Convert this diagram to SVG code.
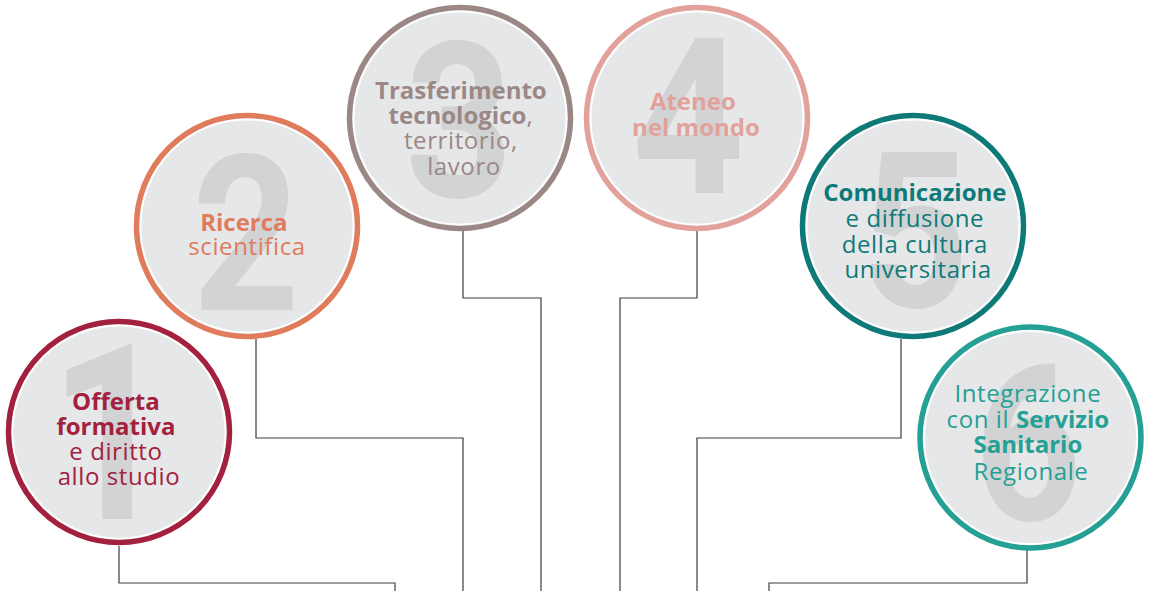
<svg xmlns="http://www.w3.org/2000/svg" width="1149" height="591" viewBox="0 0 1149 591">
  <style>
    .ring { fill: #e6e7e8; stroke-width: 5.5; }
    .inner { fill: none; stroke: #ffffff; stroke-width: 1.8; }
    .num { font-family: Roboto, "Liberation Sans", sans-serif; font-weight: 700; fill: #d1d3d4; text-anchor: middle; }
    .lbl { font-family: "Open Sans", "Liberation Sans", sans-serif; font-size: 24px; text-anchor: middle; }
    .b { font-weight: 700; }
    .l { font-weight: 400; letter-spacing: 0.6px; }
    .wire { fill: none; stroke: #3c3c3c; stroke-width: 1.2; }
  </style>

  <g id="connectors">
    <path class="wire" d="M119,546 V583 H395 V591"/>
    <path class="wire" d="M256,339 V438 H463 V591"/>
    <path class="wire" d="M463,231 V298 H541 V591"/>
    <path class="wire" d="M697,231 V298 H620 V591"/>
    <path class="wire" d="M901,339 V438 H697 V591"/>
    <path class="wire" d="M1027,550 V583 H769 V591"/>
  </g>

  <g id="node1">
    <circle class="ring" cx="119" cy="432" r="110.5" stroke="#a3213f"/>
    <circle class="inner" cx="119" cy="432" r="106.5"/>
    <text class="num" transform="translate(110,519) scale(0.86,1)" font-size="246">1</text>
    <text class="lbl" fill="#a3213f">
      <tspan class="b" x="119" y="410">Offerta</tspan>
      <tspan class="b" x="119" y="435">formativa</tspan>
      <tspan class="l" x="119" y="460">e diritto</tspan>
      <tspan class="l" x="119" y="485">allo studio</tspan>
    </text>
  </g>

  <g id="node2">
    <circle class="ring" cx="247" cy="226" r="110.5" stroke="#e07b5c"/>
    <circle class="inner" cx="247" cy="226" r="106.5"/>
    <text class="num" transform="translate(246,310) scale(0.86,1)" font-size="218">2</text>
    <text class="lbl" fill="#e07b5c">
      <tspan class="b" x="247" y="231">Ricerca</tspan>
      <tspan class="l" x="247" y="255">scientifica</tspan>
    </text>
  </g>

  <g id="node3">
    <circle class="ring" cx="460" cy="118" r="110.5" stroke="#9b8886"/>
    <circle class="inner" cx="460" cy="118" r="106.5"/>
    <text class="num" transform="translate(459,197) scale(0.86,1)" font-size="218">3</text>
    <text class="lbl" fill="#9b8886">
      <tspan class="b" x="464" y="99">Trasferimento</tspan>
      <tspan x="464" y="124"><tspan class="b">tecnologico</tspan><tspan class="l">,</tspan></tspan>
      <tspan class="l" x="464" y="149">territorio,</tspan>
      <tspan class="l" x="464" y="175">lavoro</tspan>
    </text>
  </g>

  <g id="node4">
    <circle class="ring" cx="697" cy="118" r="110.5" stroke="#e2a29b"/>
    <circle class="inner" cx="697" cy="118" r="106.5"/>
    <text class="num" transform="translate(688,193) scale(0.9,1)" font-size="218">4</text>
    <text class="lbl b" fill="#e2a29b">
      <tspan x="696" y="110">Ateneo</tspan>
      <tspan x="696" y="136">nel mondo</tspan>
    </text>
  </g>

  <g id="node5">
    <circle class="ring" cx="913" cy="226" r="110.5" stroke="#0e7a78"/>
    <circle class="inner" cx="913" cy="226" r="106.5"/>
    <text class="num" transform="translate(915,307) scale(0.86,1)" font-size="218">5</text>
    <text class="lbl" fill="#0e7a78">
      <tspan class="b" x="918" y="201">Comunicazione</tspan>
      <tspan class="l" x="918" y="227">e diffusione</tspan>
      <tspan class="l" x="918" y="253">della cultura</tspan>
      <tspan class="l" x="918" y="278">universitaria</tspan>
    </text>
  </g>

  <g id="node6">
    <circle class="ring" cx="1030.5" cy="437.5" r="110.5" stroke="#25a095"/>
    <circle class="inner" cx="1030.5" cy="437.5" r="106.5"/>
    <text class="num" transform="translate(1028,520) scale(0.86,1)" font-size="218">6</text>
    <text class="lbl" fill="#25a095">
      <tspan class="l" x="1031" y="402">Integrazione</tspan>
      <tspan x="1031" y="428"><tspan class="l">con il </tspan><tspan class="b">Servizio</tspan></tspan>
      <tspan class="b" x="1031" y="453">Sanitario</tspan>
      <tspan class="l" x="1031" y="480">Regionale</tspan>
    </text>
  </g>
</svg>
